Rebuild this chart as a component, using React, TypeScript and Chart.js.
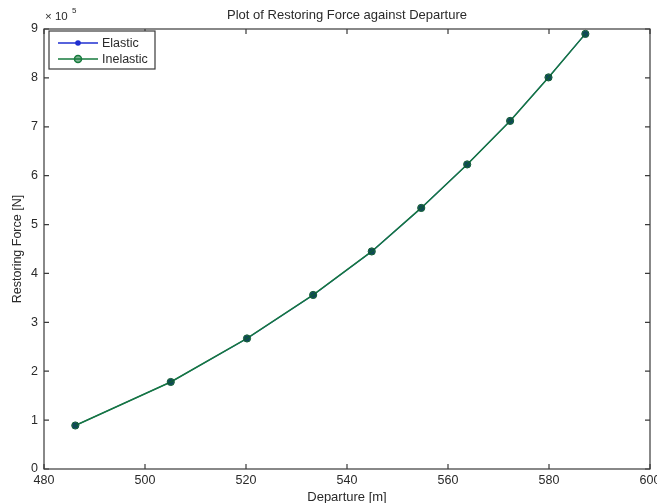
import React, { useEffect, useRef } from "react";
import { Chart, registerables } from "chart.js";

Chart.register(...registerables);

// Departure [m] and restoring force [N]
const departure = [486.2, 505.1, 520.2, 533.3, 544.9, 554.7, 563.8, 572.3, 579.9, 587.2];
const elasticForce = [89000, 178000, 267000, 356000, 445000, 534000, 623000, 712000, 801000, 890000];
const inelasticForce = [89000, 178000, 267000, 356000, 445000, 534000, 623000, 712000, 801000, 890000];
const seriesNames = ["Elastic", "Inelastic"];
const xTicks = [480, 500, 520, 540, 560, 580, 600];
const yTicks = [0, 1, 2, 3, 4, 5, 6, 7, 8, 9];
const yExponent = 5;

const W = 657;
const H = 503;
const FONT = "'Liberation Sans', Arial, sans-serif";
const TEXT = "#2a2a2a";
const FRAME = "#3a3a3a";
const BLUE = "#1f2fd0";
const GREEN = "#167a3c";

// Box, inward ticks, titles and legend in a MATLAB-like style
const decorations = {
  id: "decorations",
  afterDatasetsDraw(chart: any) {
    const { ctx, chartArea: a, scales } = chart;
    const x = scales.x;
    const y = scales.y;
    ctx.save();
    ctx.strokeStyle = FRAME;
    ctx.lineWidth = 1.2;
    ctx.strokeRect(a.left, a.top, a.right - a.left, a.bottom - a.top);
    const tl = 5;
    ctx.beginPath();
    xTicks.forEach((v) => {
      const px = x.getPixelForValue(v);
      ctx.moveTo(px, a.bottom);
      ctx.lineTo(px, a.bottom - tl);
      ctx.moveTo(px, a.top);
      ctx.lineTo(px, a.top + tl);
    });
    yTicks.forEach((v) => {
      const py = y.getPixelForValue(v * Math.pow(10, yExponent));
      ctx.moveTo(a.left, py);
      ctx.lineTo(a.left + tl, py);
      ctx.moveTo(a.right, py);
      ctx.lineTo(a.right - tl, py);
    });
    ctx.stroke();

    ctx.fillStyle = TEXT;
    ctx.textBaseline = "middle";
    // title
    ctx.font = `13px ${FONT}`;
    ctx.textAlign = "center";
    ctx.fillText("Plot of Restoring Force against Departure", (a.left + a.right) / 2, 15);
    // x axis label
    ctx.fillText("Departure [m]", (a.left + a.right) / 2, 497);
    // y axis label
    ctx.save();
    ctx.translate(18, (a.top + a.bottom) / 2);
    ctx.rotate(-Math.PI / 2);
    ctx.font = `12.5px ${FONT}`;
    ctx.fillText("Restoring Force [N]", 0, 0);
    ctx.restore();
    // exponent
    ctx.textAlign = "left";
    ctx.font = `11.5px ${FONT}`;
    ctx.fillText("× 10", a.left + 1, 17);
    ctx.font = `8px ${FONT}`;
    ctx.fillText(String(yExponent), a.left + 28, 11);

    // legend
    const lx = a.left + 5;
    const ly = a.top + 2;
    const lw = 106;
    const lh = 38;
    ctx.fillStyle = "#ffffff";
    ctx.fillRect(lx, ly, lw, lh);
    ctx.strokeStyle = FRAME;
    ctx.lineWidth = 1.2;
    ctx.strokeRect(lx, ly, lw, lh);
    const colors = [BLUE, GREEN];
    seriesNames.forEach((name, i) => {
      const cy = Math.round(ly + 12 + i * 16);
      ctx.strokeStyle = colors[i];
      ctx.lineWidth = 1.5;
      ctx.beginPath();
      ctx.moveTo(lx + 9, cy);
      ctx.lineTo(lx + 49, cy);
      ctx.stroke();
      ctx.beginPath();
      ctx.arc(lx + 29, cy, i === 0 ? 2.8 : 3.5, 0, Math.PI * 2);
      ctx.fillStyle = i === 0 ? BLUE : "rgba(22,122,60,0.55)";
      ctx.fill();
      if (i === 1) ctx.stroke();
      ctx.fillStyle = TEXT;
      ctx.font = `12.5px ${FONT}`;
      ctx.textAlign = "left";
      ctx.fillText(name, lx + 53, cy + 0.5);
    });
    ctx.restore();
  },
};

export default function App() {
  const ref = useRef<HTMLCanvasElement>(null);

  useEffect(() => {
    document.body.style.margin = "0";
    const canvas = ref.current;
    if (!canvas) return;
    const chart = new Chart(canvas, {
      type: "line",
      data: {
        datasets: [
          {
            label: seriesNames[0],
            data: departure.map((d, i) => ({ x: d, y: elasticForce[i] })),
            borderColor: BLUE,
            backgroundColor: BLUE,
            borderWidth: 1.2,
            pointRadius: 3,
            pointBorderWidth: 0,
            order: 1,
          },
          {
            label: seriesNames[1],
            data: departure.map((d, i) => ({ x: d, y: inelasticForce[i] })),
            borderColor: GREEN,
            backgroundColor: "rgba(10,80,50,0.75)",
            borderWidth: 1.5,
            pointRadius: 3.6,
            pointBorderWidth: 1,
            pointBorderColor: "#0e5a35",
            order: 0,
          },
        ],
      },
      options: {
        responsive: false,
        animation: false,
        layout: { padding: { left: 0, top: 29, right: 7, bottom: 0 } },
        plugins: {
          legend: { display: false },
          title: { display: false },
          tooltip: { enabled: false },
        },
        scales: {
          x: {
            type: "linear",
            min: 480,
            max: 600,
            afterBuildTicks: (s: any) => {
              s.ticks = xTicks.map((v) => ({ value: v }));
            },
            afterFit: (s: any) => {
              s.height = 34;
              s.paddingLeft = 0;
              s.paddingRight = 0;
            },
            grid: { display: false, drawTicks: false },
            border: { display: false },
            ticks: {
              padding: 4,
              maxRotation: 0,
              autoSkip: false,
              color: TEXT,
              font: { family: FONT, size: 12.5 },
              callback: (v: any) => String(v),
            },
          },
          y: {
            type: "linear",
            min: 0,
            max: 9 * Math.pow(10, yExponent),
            afterBuildTicks: (s: any) => {
              s.ticks = yTicks.map((v) => ({ value: v * Math.pow(10, yExponent) }));
            },
            afterFit: (s: any) => {
              s.width = 44;
              s.paddingTop = 0;
              s.paddingBottom = 0;
            },
            grid: { display: false, drawTicks: false },
            border: { display: false },
            ticks: {
              padding: 6,
              autoSkip: false,
              color: TEXT,
              font: { family: FONT, size: 12.5 },
              callback: (v: any) => String(Math.round(Number(v) / Math.pow(10, yExponent))),
            },
          },
        },
      },
      plugins: [decorations],
    });
    return () => chart.destroy();
  }, []);

  return (
    <div style={{ width: W, height: H, background: "#fff" }}>
      <canvas ref={ref} width={W} height={H} style={{ display: "block" }} />
    </div>
  );
}
